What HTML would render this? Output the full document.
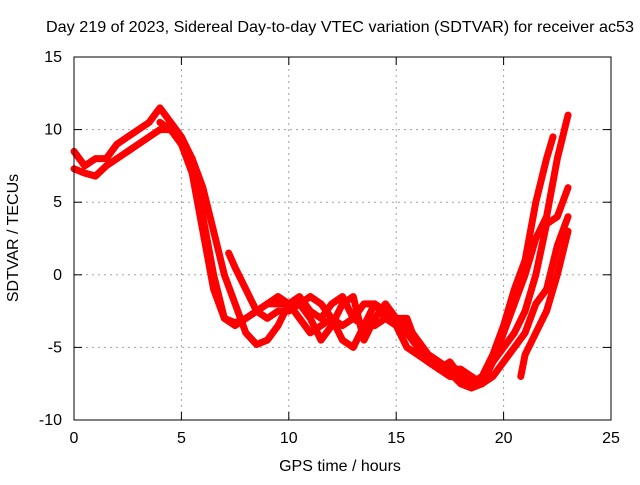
<!DOCTYPE html>
<html><head><meta charset="utf-8"><style>
body{margin:0;background:#fff;}
svg text{font-family:"Liberation Sans",sans-serif;font-size:16px;fill:#000;}
</style></head><body>
<svg id="chart" width="640" height="480">
<text x="340" y="32" text-anchor="middle" textLength="588" lengthAdjust="spacingAndGlyphs">Day 219 of 2023, Sidereal Day-to-day VTEC variation (SDTVAR) for receiver ac53</text>
<text x="340" y="471" text-anchor="middle">GPS time / hours</text>
<text x="18" y="238" text-anchor="middle" transform="rotate(-90 18 238)">SDTVAR / TECUs</text>
<g id="grid"></g><g id="series"></g><g id="ticks"></g>
<rect x="74" y="57" width="537" height="363" fill="none" stroke="#000" stroke-width="1"/>
</svg>
<script>
const xTicks=[0,5,10,15,20,25];
const yTicks=[15,10,5,0,-5,-10];
const track1=[[0,8.5],[0.5,7.5],[1,8],[1.5,8],[2,9],[2.5,9.5],[3,10],[3.5,10.5],[4,11.5],[4.5,10.5],[5,9.5],[5.5,8],[6,4],[6.5,0],[7,-3],[7.5,-3.5],[8,-3],[9,-2],[10,-2],[10.5,-2],[11,-3],[11.5,-4.5],[12,-3.5],[12.5,-2],[13,-1.5],[13.5,-4.5],[14,-3],[14.5,-2],[15,-3],[15.5,-3],[16,-5],[16.5,-6],[17,-6.5],[17.5,-6],[18,-7],[18.5,-7.5],[19,-7],[19.5,-5.5],[20,-3.5],[20.5,-1],[21,1],[21.5,5],[22,8],[22.3,9.5]];
const track2=[[0,7.3],[0.5,7],[1,6.8],[1.5,7.5],[2,8],[3,9],[4,10],[4.5,10],[5,9],[5.5,7],[6,3],[6.5,-1],[7,-3],[7.5,-3.3],[8,-3],[8.5,-2.5],[9,-2],[9.5,-1.5],[10,-2],[10.5,-3],[11,-4],[11.5,-3.5],[12,-3],[12.5,-3.5],[13,-3],[13.5,-2],[14,-2],[14.5,-3],[15,-3],[15.5,-4],[16,-5],[17,-6],[18,-7.5],[18.5,-7.8],[19,-7.5],[19.5,-6],[20,-4],[20.5,-2],[21,0],[21.5,2.5],[22,4],[22.5,8],[23,11]];
const track3=[[4,10.5],[4.5,10],[5,9],[5.5,8],[6,6],[6.5,3],[7,0],[7.5,-2],[8,-4],[8.5,-4.8],[9,-4.5],[9.5,-3.5],[10,-2],[10.5,-1.5],[11,-2.5],[11.5,-3],[12,-2],[12.5,-1.5],[13,-3],[13.5,-3.5],[14,-3.5],[14.5,-3],[15,-3.5],[15.5,-5],[16,-5.5],[16.5,-6],[17,-6.5],[17.5,-7],[18,-7],[18.5,-7.5],[19,-7],[19.5,-6],[20,-5],[20.5,-4],[21,-2.5],[21.5,0],[22,3.5],[22.5,4],[23,6]];
const track4=[[7.2,1.5],[7.5,0.5],[8,-1],[8.5,-2.5],[9,-3],[9.5,-2.5],[10,-2.5],[10.5,-2],[11,-1.5],[11.5,-2],[12,-3],[12.5,-4.5],[13,-5],[13.5,-3.5],[14,-2],[14.5,-2.5],[15,-3],[15.5,-3.5],[16,-4.5],[16.5,-5.5],[17,-6],[17.5,-6.5],[18,-6.5],[18.5,-7],[19,-7.5],[19.5,-7],[20,-6],[20.5,-5],[21,-4],[21.5,-2],[22,-1],[22.5,2],[23,4]];
const track5=[[20.8,-7],[21,-5.5],[21.5,-4],[22,-2.5],[22.5,0],[23,3]];
const allTracks=[track1,track2,track3,track4,track5];
const X=v=>74+(v/25)*537;
const Y=v=>57+(15-v)/25*363;
const NS='http://www.w3.org/2000/svg';
const grid=document.getElementById('grid'),ticks=document.getElementById('ticks'),ser=document.getElementById('series');
function mk(tag,attrs,parent){const e=document.createElementNS(NS,tag);for(const k in attrs)e.setAttribute(k,attrs[k]);parent.appendChild(e);return e;}
xTicks.forEach(t=>{
 if(t>0&&t<25){const g=mk('line',{x1:X(t),x2:X(t),y1:57,y2:420,stroke:'#a0a0a0','stroke-dasharray':'2,4'},grid);
 
 }
 mk('line',{x1:X(t),x2:X(t),y1:420,y2:412,stroke:'#000'},ticks);
 mk('line',{x1:X(t),x2:X(t),y1:57,y2:65,stroke:'#000'},ticks);
 const l=mk('text',{x:X(t),y:443,'text-anchor':'middle'},ticks);l.textContent=t;
 
 
});
yTicks.forEach(t=>{
 if(t<15&&t>-10){const g=mk('line',{x1:74,x2:611,y1:Y(t),y2:Y(t),stroke:'#a0a0a0','stroke-dasharray':'2,4'},grid);
 
 }
 mk('line',{x1:74,x2:82,y1:Y(t),y2:Y(t),stroke:'#000'},ticks);
 mk('line',{x1:611,x2:603,y1:Y(t),y2:Y(t),stroke:'#000'},ticks);
 const l=mk('text',{x:62,y:Y(t)+5,'text-anchor':'end'},ticks);l.textContent=t;
 
 
});
allTracks.forEach((tr,i)=>{
 const p=mk('polyline',{points:tr.map(d=>X(d[0])+','+Y(d[1])).join(' '),fill:'none',stroke:'#ff0000','stroke-width':7,'stroke-linejoin':'round','stroke-linecap':'round'},ser);
 
 
});
</script>
</body></html>
